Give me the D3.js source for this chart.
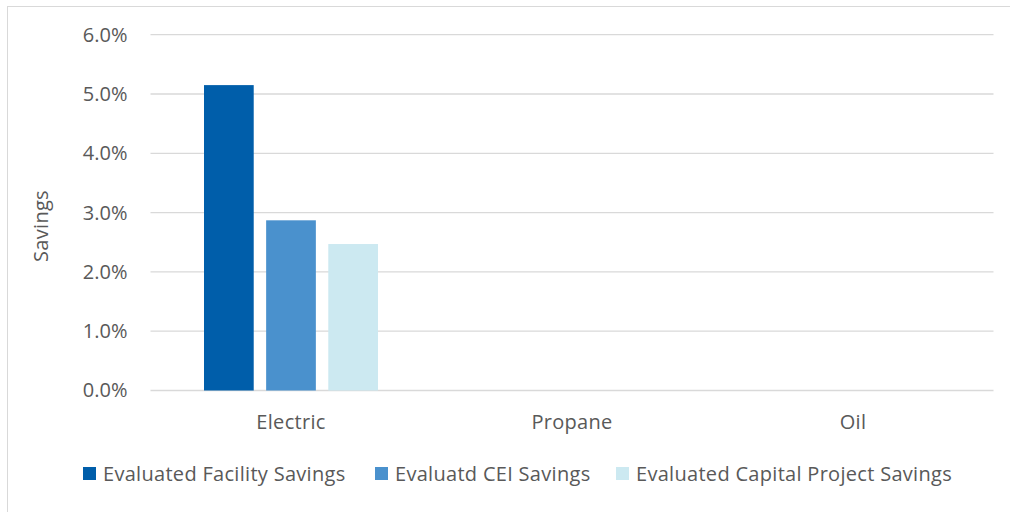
<!DOCTYPE html>
<html><head><meta charset="utf-8">
<script src="https://cdn.jsdelivr.net/npm/d3@7"></script>
<style>body{margin:0;background:#fff}svg{display:block}</style>
</head><body>
<svg id="c" width="1010" height="512"></svg>
<script>
const categories = ["Electric", "Propane", "Oil"];
const seriesNames = ["Evaluated Facility Savings", "Evaluatd CEI Savings", "Evaluated Capital Project Savings"];
const facility = [0.0515, 0, 0];
const cei = [0.0287, 0, 0];
const capital = [0.0247, 0, 0];
const yTicks = [0, 0.01, 0.02, 0.03, 0.04, 0.05, 0.06];
const colors = ["#005EAA", "#4A91CD", "#CCE9F1"];

(function () {
const series = [facility, cei, capital];
const svg = d3.select("#c");
const font = "'Open Sans', sans-serif";
const fs = 20;
const txt = "#595959";

svg.append("rect").attr("x", 7.5).attr("y", 6.5).attr("width", 1010).attr("height", 520)
  .attr("fill", "none").attr("stroke", "#d9d9d9").attr("stroke-width", 1);

const pl = 150.5, pr = 993.5, pt = 34.7, pb = 390.5;
const x = d3.scaleBand().domain(categories).range([pl, pr]).paddingInner(0).paddingOuter(0);
const y = d3.scaleLinear().domain([0, 0.06]).range([pb, pt]);
const x1 = d3.scaleBand().domain(d3.range(3)).range([0, 174]).paddingInner(0.2).paddingOuter(0);

svg.append("g").selectAll("line").data(yTicks).join("line")
  .attr("x1", pl).attr("x2", pr)
  .attr("y1", d => y(d)).attr("y2", d => y(d))
  .attr("stroke", "#d9d9d9").attr("stroke-width", 1.3);

const yAxis = d3.axisLeft(y).tickValues(yTicks).tickFormat(d3.format(".1%")).tickSize(0).tickPadding(23);
const ya = svg.append("g").attr("transform", `translate(${pl},0)`).call(yAxis);
ya.select(".domain").remove();
ya.selectAll("text").attr("font-family", font).attr("font-size", fs).attr("fill", txt);

const xAxis = d3.axisBottom(x).tickSize(0);
const xa = svg.append("g").attr("transform", `translate(0,${pb})`).call(xAxis);
xa.select(".domain").remove();
xa.selectAll("text").attr("font-family", font).attr("font-size", fs).attr("fill", txt)
  .attr("y", 429 - pb).attr("dy", 0).attr("letter-spacing", 0.3);

const groups = svg.append("g").selectAll("g").data(categories).join("g")
  .attr("transform", c => `translate(${x(c) + (x.bandwidth() - 174) / 2},0)`);
groups.selectAll("rect").data((c, ci) => series.map((s, si) => ({si, v: s[ci]}))).join("rect")
  .attr("x", d => x1(d.si)).attr("width", x1.bandwidth())
  .attr("y", d => y(d.v)).attr("height", d => pb - y(d.v))
  .attr("fill", d => colors[d.si]);

svg.append("text").attr("transform", "translate(48,226) rotate(-90)")
  .attr("text-anchor", "middle").attr("font-family", font).attr("font-size", fs).attr("fill", txt)
  .attr("letter-spacing", 0.3).text("Savings");

const legX = [83, 375, 616];
const leg = svg.append("g").selectAll("g").data(seriesNames).join("g")
  .attr("transform", (d, i) => `translate(${legX[i]},467)`);
leg.append("rect").attr("width", 13).attr("height", 13).attr("fill", (d, i) => colors[i]);
leg.append("text").attr("x", 20).attr("y", 14).attr("font-family", font).attr("font-size", fs)
  .attr("fill", txt).attr("letter-spacing", 0.3).text(d => d);
})();
</script>
</body></html>
